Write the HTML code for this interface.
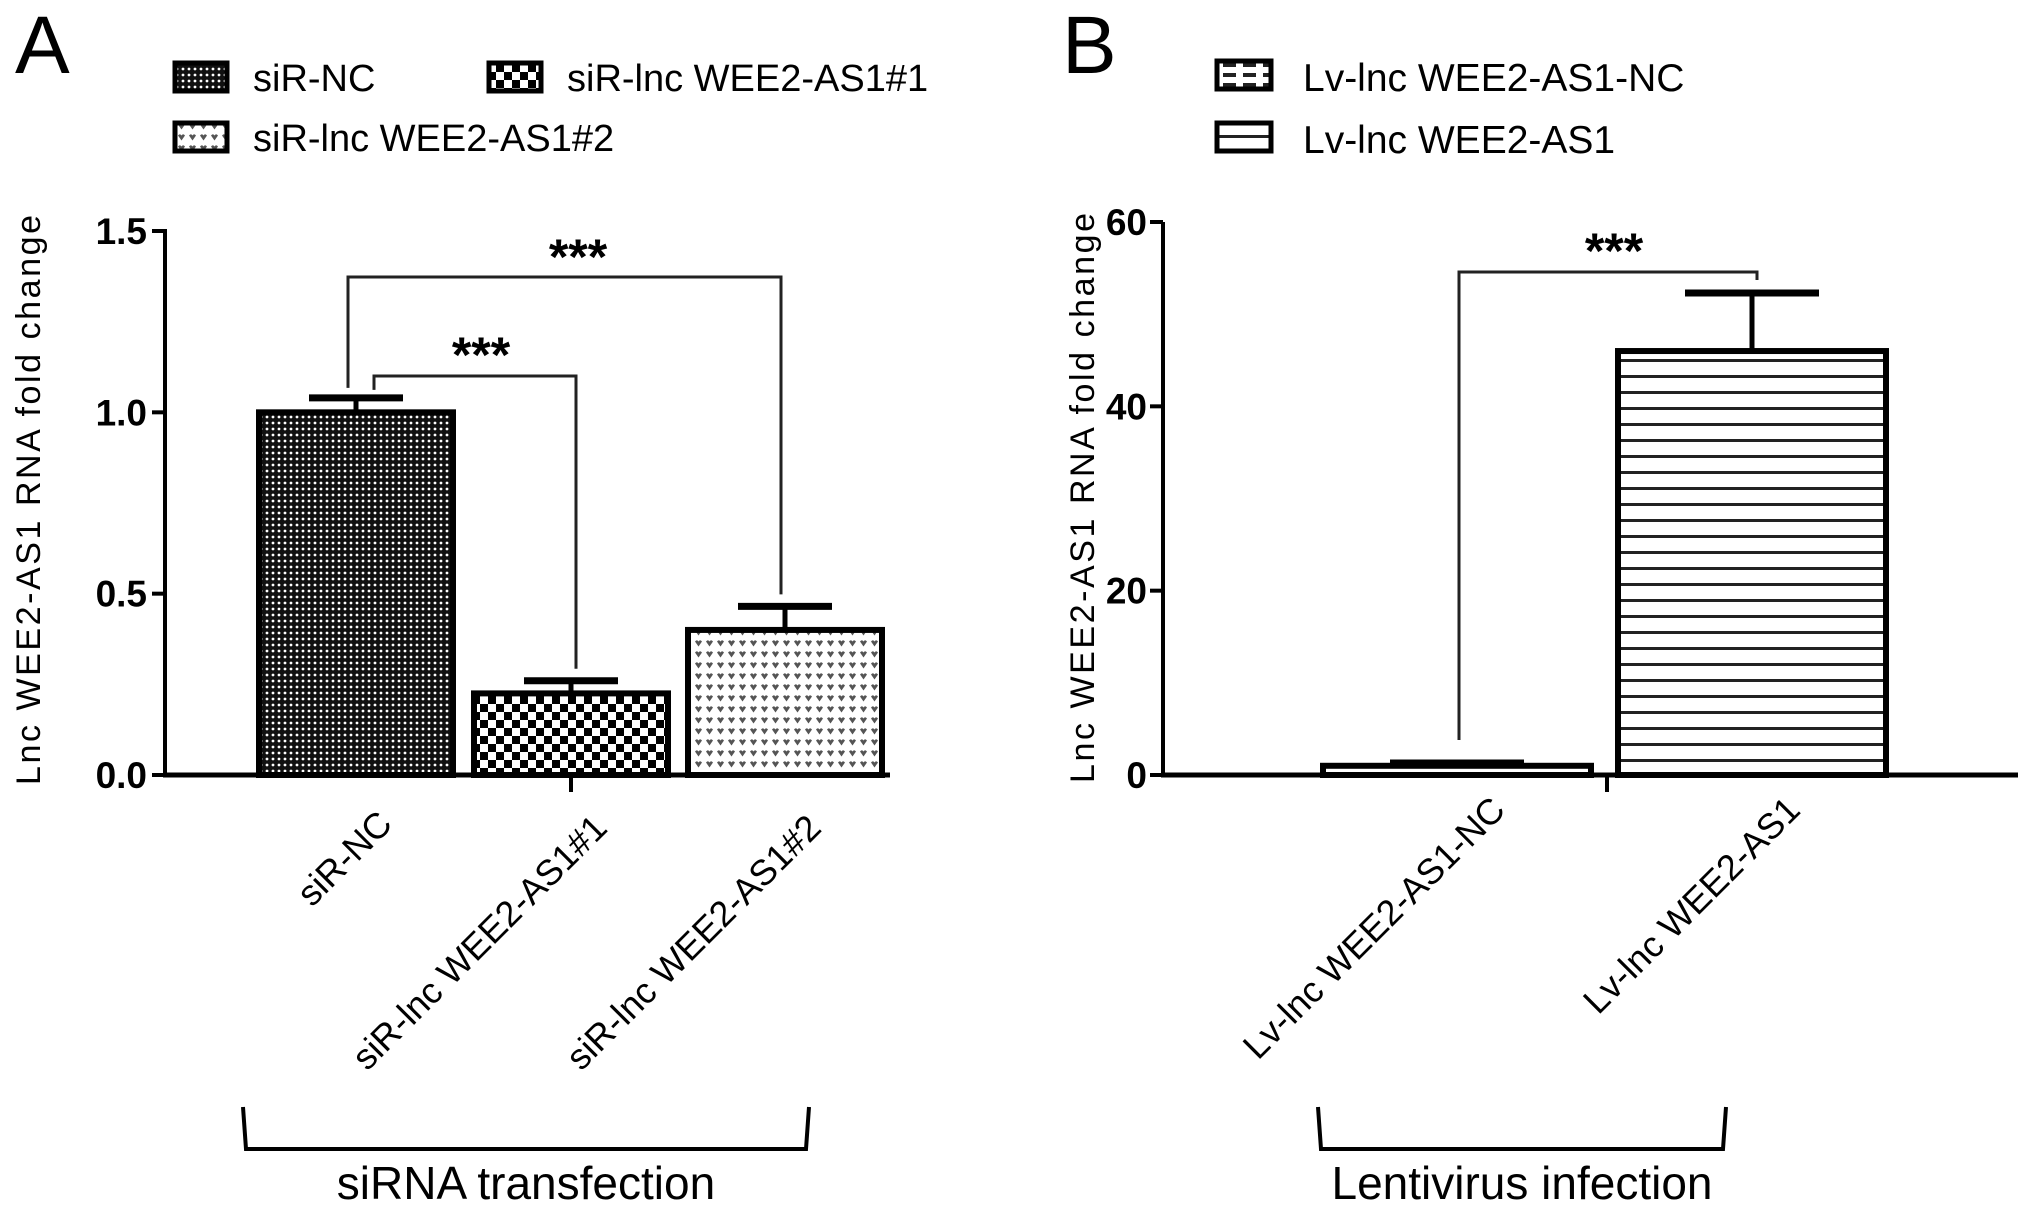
<!DOCTYPE html>
<html><head><meta charset="utf-8"><style>
html,body{margin:0;padding:0;background:#fff;}
svg{display:block;font-family:"Liberation Sans",Arial,sans-serif;}
</style></head><body>
<svg id="fig" width="2031" height="1215" viewBox="0 0 2031 1215" xmlns="http://www.w3.org/2000/svg">
<defs>
<pattern id="pDots" width="6" height="6" patternUnits="userSpaceOnUse"><rect width="6" height="6" fill="#111"/><circle cx="3" cy="3" r="1.4" fill="#fff"/></pattern>
<pattern id="pCheck" width="16" height="16" patternUnits="userSpaceOnUse"><rect width="16" height="16" fill="#fff"/><rect width="8" height="8" fill="#000"/><rect x="8" y="8" width="8" height="8" fill="#000"/></pattern>
<pattern id="pHeart" width="11" height="11" patternUnits="userSpaceOnUse"><rect width="11" height="11" fill="#fff"/><path d="M2 3.5 Q4 1 5.5 3.5 Q7 1 9 3.5 L5.5 8.5 Z" fill="#555"/></pattern>
<pattern id="pDash" width="20" height="10" patternUnits="userSpaceOnUse"><rect width="20" height="10" fill="#fff"/><rect x="3" y="3" width="13" height="4" fill="#222"/></pattern>
<pattern id="pLines" width="20" height="16" patternUnits="userSpaceOnUse"><rect width="20" height="16" fill="#fff"/><rect y="7" width="20" height="3" fill="#222"/></pattern>
</defs>
<g id="panelA"></g>
<g id="panelB"></g>
</svg>
<script>
const NS="http://www.w3.org/2000/svg";
// Panel A data
const catsA=["siR-NC","siR-lnc WEE2-AS1#1","siR-lnc WEE2-AS1#2"];
const valsA=[1.0,0.225,0.40];
const errA=[0.04,0.035,0.065];
const ticksA=[0,0.5,1.0,1.5];
const tickLabelsA=["0.0","0.5","1.0","1.5"];
// Panel B data
const catsB=["Lv-lnc WEE2-AS1-NC","Lv-lnc WEE2-AS1"];
const valsB=[1.0,46.0];
const errB=[0.3,6.3];
const ticksB=[0,20,40,60];
const tickLabelsB=["0","20","40","60"];

function el(parent,tag,attrs,text){const e=document.createElementNS(NS,tag);for(const k in attrs)e.setAttribute(k,attrs[k]);if(text!==undefined)e.textContent=text;parent.appendChild(e);return e;}

const A=document.getElementById('panelA');
const B=document.getElementById('panelB');

const yA=v=>775-(v/1.5)*(775-231);
const xA=[356,571,785];const bwA=200;
const yB=v=>775-(v/60)*(775-222);
const xB=[1457,1752];const bwB=274;

function text(p,name,x,y,s,attrs){const t=el(p,'text',Object.assign({x:x,y:y},attrs||{}),s);return t;}

text(A,'panel-a-label',15,73,'A',{'font-size':82});
text(B,'panel-b-label',1062,73,'B',{'font-size':82});

const legA=[[173,60,'pDots','siR-NC'],[487,60,'pCheck','siR-lnc WEE2-AS1#1'],[173,120,'pHeart','siR-lnc WEE2-AS1#2']];
legA.forEach((l,i)=>{const r=el(A,'rect',{x:l[0]+2,y:l[1]+3,width:52,height:28,fill:'url(#'+l[2]+')',stroke:'#000','stroke-width':5});


text(A,'legend-entry-'+(i+1),l[0]+80,l[1]+31,l[3],{'font-size':38});});
const legB=[[1215,58,'pDash','Lv-lnc WEE2-AS1-NC'],[1215,120,'pLines','Lv-lnc WEE2-AS1']];
legB.forEach((l,i)=>{const r=el(B,'rect',{x:l[0]+2,y:l[1]+3,width:54,height:28,fill:'url(#'+l[2]+')',stroke:'#000','stroke-width':5});


text(B,'legend-entry-b'+(i+1),l[0]+88,l[1]+33,l[3],{'font-size':39});});

text(A,'y-axis-title-a',0,0,'Lnc WEE2-AS1 RNA fold change',{'font-size':34,'text-anchor':'middle',transform:'translate(40,500) rotate(-90)',textLength:570});
text(B,'y-axis-title-b',0,0,'Lnc WEE2-AS1 RNA fold change',{'font-size':34,'text-anchor':'middle',transform:'translate(1094,498) rotate(-90)',textLength:570});

let ax=el(A,'line',{x1:165,y1:yA(1.5)-2,x2:165,y2:777,stroke:'#000','stroke-width':4});

ticksA.forEach((t,i)=>{el(A,'line',{x1:152,y1:yA(t),x2:165,y2:yA(t),stroke:'#000','stroke-width':4});
text(A,'y-tick-a-'+i,147,yA(t)+13,tickLabelsA[i],{'font-size':37,'font-weight':'bold','text-anchor':'end'});});
ax=el(B,'line',{x1:1163,y1:yB(60),x2:1163,y2:777,stroke:'#000','stroke-width':4});

ticksB.forEach((t,i)=>{el(B,'line',{x1:1150,y1:yB(t),x2:1163,y2:yB(t),stroke:'#000','stroke-width':4});
text(B,'y-tick-b-'+i,1147,yB(t)+13,tickLabelsB[i],{'font-size':37,'font-weight':'bold','text-anchor':'end'});});

const patsA=['pDots','pCheck','pHeart'];
valsA.forEach((v,i)=>{const x=xA[i]-bwA/2+3,top=yA(v);
const r=el(A,'rect',{x:x,y:top,width:bwA-6,height:775-top,fill:'url(#'+patsA[i]+')',stroke:'#000','stroke-width':6});

const et=yA(v+errA[i]);
el(A,'line',{x1:xA[i],y1:top,x2:xA[i],y2:et,stroke:'#000','stroke-width':5});
el(A,'line',{x1:xA[i]-47,y1:et,x2:xA[i]+47,y2:et,stroke:'#000','stroke-width':7});
text(A,'x-label-'+(i+1),0,0,catsA[i],{'font-size':36,'text-anchor':'end',transform:'translate('+(xA[i]+38)+','+(i==0?826:830)+') rotate(-45)'});});
ax=el(A,'line',{x1:163,y1:775,x2:890,y2:775,stroke:'#000','stroke-width':5});

el(A,'line',{x1:571,y1:775,x2:571,y2:792,stroke:'#000','stroke-width':4});

const patsB=['pDash','pLines'];
valsB.forEach((v,i)=>{const x=xB[i]-bwB/2+3,top=yB(v);
const r=el(B,'rect',{x:x,y:top,width:bwB-6,height:775-top,fill:'url(#'+patsB[i]+')',stroke:'#000','stroke-width':6});

const et=yB(v+errB[i]);
el(B,'line',{x1:xB[i],y1:top,x2:xB[i],y2:et,stroke:'#000','stroke-width':5});
el(B,'line',{x1:xB[i]-67,y1:et,x2:xB[i]+67,y2:et,stroke:'#000','stroke-width':7});
text(B,'x-label-b'+(i+1),0,0,catsB[i],{'font-size':36,'text-anchor':'end',transform:'translate('+(xB[i]+50)+',812) rotate(-45)'});});
ax=el(B,'line',{x1:1161,y1:775,x2:2018,y2:775,stroke:'#000','stroke-width':5});

el(B,'line',{x1:1607,y1:775,x2:1607,y2:792,stroke:'#000','stroke-width':4});

function bracket(p,name,x1,yL,x2,yR,ytop,sx,sy){const g=el(p,'polyline',{points:x1+','+yL+' '+x1+','+ytop+' '+x2+','+ytop+' '+x2+','+yR,fill:'none',stroke:'#222','stroke-width':3});

text(p,name+'-stars',sx,sy,'***',{'font-size':50,'font-weight':'bold','text-anchor':'middle'});}
bracket(A,'sig-bracket-outer',348,yA(valsA[0]+errA[0])-10,781,yA(valsA[2]+errA[2])-12,277,578,274);
bracket(A,'sig-bracket-inner',374,yA(valsA[0]+errA[0])-8,576,yA(valsA[1]+errA[1])-12,376,481,372);
bracket(B,'sig-bracket-b',1459,740,1757,280,272,1614,268);

[[A,'group-bracket-a',243,809,'siRNA transfection'],[B,'group-bracket-b',1318,1726,'Lentivirus infection']].forEach(g=>{
const pl=el(g[0],'polyline',{points:g[2]+',1107 '+(g[2]+3)+',1149 '+(g[3]-3)+',1149 '+g[3]+',1107',fill:'none',stroke:'#000','stroke-width':4});

text(g[0],g[1]+'-label',(g[2]+g[3])/2,1199,g[4],{'font-size':46,'text-anchor':'middle'});});
</script>
</body></html>
